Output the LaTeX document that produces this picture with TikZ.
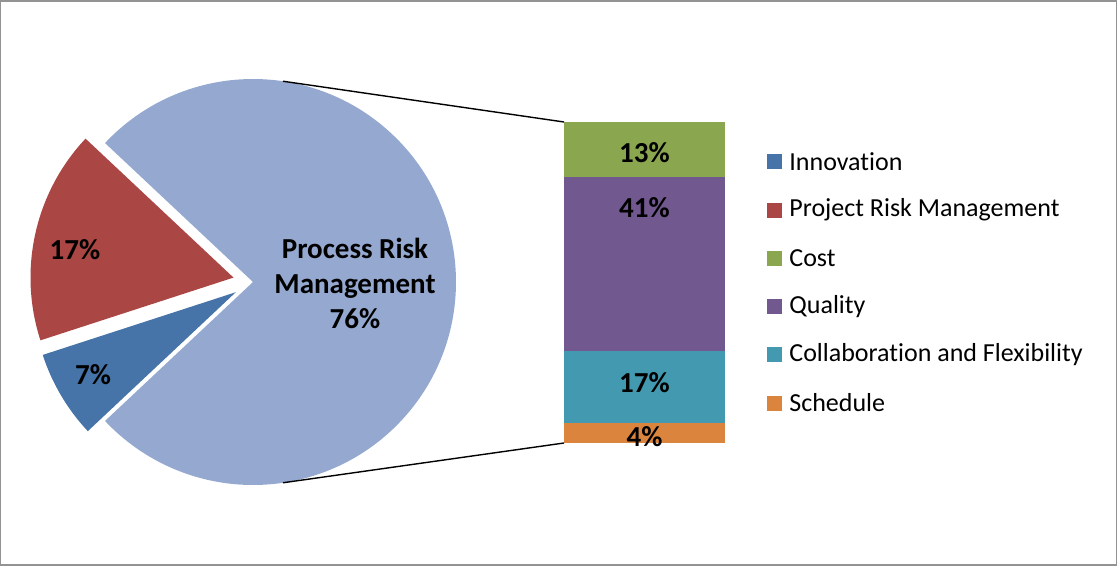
\documentclass[tikz,border=0pt]{standalone}
\usepackage{fontspec}
\setmainfont{Carlito}[Ligatures=NoCommon]
\definecolor{innov}{HTML}{4674A8}
\definecolor{projrisk}{HTML}{AA4643}
\definecolor{procrisk}{HTML}{95A9D0}
\definecolor{cost}{HTML}{8AA64E}
\definecolor{quality}{HTML}{71588F}
\definecolor{collab}{HTML}{4299B0}
\definecolor{sched}{HTML}{DB843D}
\tikzset{
  pct/.style={font=\fontsize{14.5}{17}\selectfont\bfseries, text=black, inner sep=0pt},
  legtext/.style={font=\fontsize{13}{15}\selectfont, anchor=west, inner sep=0pt},
}
\begin{document}
\begin{tikzpicture}[x=0.5pt, y=-0.5pt]
  \useasboundingbox (0,0) rectangle (1117,566);
  \draw[line width=0.8pt, gray!85] (0.5,1) rectangle (1116.5,565);

  \coordinate (C) at (253,282);
  \coordinate (R) at (233.5,277.6);
  \coordinate (B) at (235.8,292.2);

  % pie slices
  \fill[procrisk] (C) -- ++(-136.8:203) arc[start angle=-136.8, end angle=136.8, radius=203] -- cycle;
  \fill[projrisk] (R) -- ++(162:203) arc[start angle=162, end angle=223.2, radius=203] -- cycle;
  \fill[innov] (B) -- ++(136.8:203) arc[start angle=136.8, end angle=162, radius=203] -- cycle;

  \node[pct] (l17) at (75,250) {17\%};
  \node[pct] (l7) at (93,375) {7\%};
  \node[pct, align=center, font=\fontsize{14.5}{17.5}\selectfont\bfseries] (lprm) at (355,283) {Process Risk\\Management\\76\%};

  % bar
  \coordinate (T1) at (564,122);
  \coordinate (T2) at (564,443);
  \fill[cost] (564,122) rectangle (725,177);
  \fill[quality] (564,177) rectangle (725,351);
  \fill[collab] (564,351) rectangle (725,423);
  \fill[sched] (564,423) rectangle (725,443);

  \node[pct] (b13) at (644.5,153) {13\%};
  \node[pct] (b41) at (644.5,208) {41\%};
  \node[pct] (b17) at (644.5,383) {17\%};
  \node[pct] (b4) at (644.5,437) {4\%};

  % connectors
  \draw[line width=0.7pt] (C) ++(-81.5:203) coordinate (P1) -- (T1);
  \draw[line width=0.7pt] (C) ++(81.5:203) coordinate (P2) -- (T2);

  % legend
  \foreach \col/\txt [count=\i from 0] in {innov/Innovation, projrisk/Project Risk Management, cost/Cost, quality/Quality, collab/Collaboration and Flexibility, sched/Schedule}{
    \fill[\col] (767,{154.5+48.2*\i}) rectangle (782,{169.5+48.2*\i});
    \node[legtext] (leg\i) at (789,{162+48.2*\i}) {\txt};
  }
\end{tikzpicture}
\end{document}
